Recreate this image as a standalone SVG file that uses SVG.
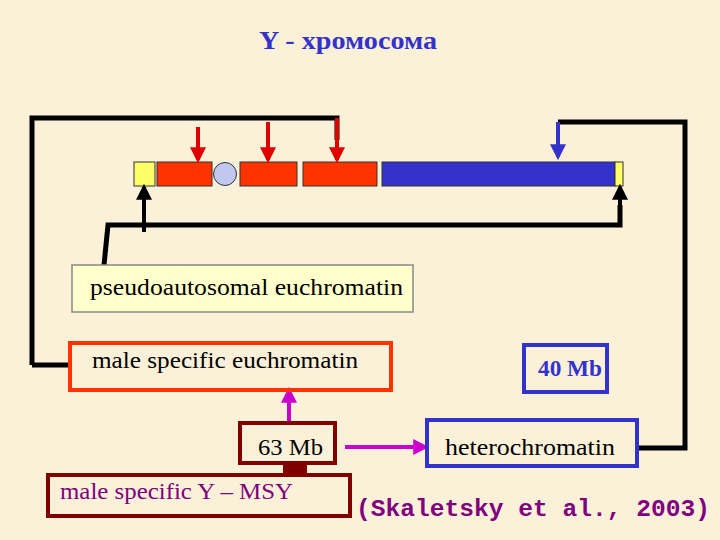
<svg xmlns="http://www.w3.org/2000/svg" width="720" height="540" viewBox="0 0 720 540">
<style>
.t{font-family:"Liberation Serif",serif;font-size:24px;fill:#000}
.ln{fill:none;stroke:#000;stroke-width:5}
.bx{stroke-width:4}
</style>
<defs>
<marker id="ab" viewBox="0 0 10 10" refX="8" refY="5" markerWidth="4" markerHeight="4" orient="auto"><path d="M0,0L10,5L0,10z" fill="#000"/></marker>
<marker id="ar" viewBox="0 0 10 10" refX="8" refY="5" markerWidth="4" markerHeight="4" orient="auto"><path d="M0,0L10,5L0,10z" fill="#E00000"/></marker>
<marker id="au" viewBox="0 0 10 10" refX="8" refY="5" markerWidth="4" markerHeight="4" orient="auto"><path d="M0,0L10,5L0,10z" fill="#3333CC"/></marker>
<marker id="ap" viewBox="0 0 10 10" refX="8" refY="5" markerWidth="4" markerHeight="4" orient="auto"><path d="M0,0L10,5L0,10z" fill="#CC00CC"/></marker>
</defs>
<rect width="720" height="540" fill="#FBF1D9"/>
<text x="259" y="49" textLength="178" lengthAdjust="spacingAndGlyphs" style="font-family:'Liberation Serif',serif;font-size:25px;font-weight:bold;fill:#3333CC">Y - хромосома</text>
<g id="chromosome" stroke="#333" stroke-width="1">
<rect x="134" y="162" width="21" height="24" fill="#FFFF66"/>
<rect x="157" y="162" width="55" height="24" fill="#FF3300"/>
<circle cx="225" cy="174" r="11.5" fill="#C0C8F0"/>
<rect x="240" y="162" width="57" height="24" fill="#FF3300"/>
<rect x="303" y="162" width="74" height="24" fill="#FF3300"/>
<rect x="382" y="162" width="233" height="24" fill="#3333CC"/>
<rect x="615" y="162" width="8" height="24" fill="#FFFF66"/>
</g>
<g id="connectors">
<path class="ln" d="M32,365V118H337V140"/>
<path d="M337,118V160" stroke="#E00000" stroke-width="4" marker-end="url(#ar)"/>
<path d="M198,127V160" stroke="#E00000" stroke-width="4" marker-end="url(#ar)"/>
<path d="M268,122V160" stroke="#E00000" stroke-width="4" marker-end="url(#ar)"/>
<path class="ln" d="M32,365H70"/>
<path class="ln" d="M558,122H685V448H638"/>
<path d="M558,122V157" stroke="#3333CC" stroke-width="4" marker-end="url(#au)"/>
<path d="M144,232V187" stroke="#000" stroke-width="4" marker-end="url(#ab)"/>
<path class="ln" d="M104,265L108,225H620V205"/>
<path d="M620,225V187" stroke="#000" stroke-width="4" marker-end="url(#ab)"/>
<path d="M289,423V390" stroke="#CC00CC" stroke-width="4" marker-end="url(#ap)"/>
<path d="M345,447H426" stroke="#CC00CC" stroke-width="4" marker-end="url(#ap)"/>
<rect x="283" y="463" width="24" height="12" fill="#800000"/>
</g>
<g id="pseudoautosomal"><rect x="72" y="265" width="341" height="47" fill="#FFFFCC" stroke="#888" stroke-width="1.5"/><text class="t" x="90" y="295" textLength="313" lengthAdjust="spacingAndGlyphs">pseudoautosomal euchromatin</text></g>
<g id="mse"><rect class="bx" x="70" y="343" width="321" height="47" fill="none" stroke="#FF3300"/><text class="t" x="92" y="368" textLength="266" lengthAdjust="spacingAndGlyphs">male specific euchromatin</text></g>
<g id="mb40"><rect class="bx" x="524" y="345" width="83" height="47" fill="none" stroke="#3333CC"/><text class="t" x="538" y="376" textLength="64" lengthAdjust="spacingAndGlyphs" style="font-weight:bold;fill:#3333CC">40 Mb</text></g>
<g id="hetero"><rect class="bx" x="427" y="420" width="210" height="46" fill="none" stroke="#3333CC"/><text class="t" x="445" y="455" textLength="170" lengthAdjust="spacingAndGlyphs">heterochromatin</text></g>
<g id="mb63"><rect class="bx" x="240" y="423" width="95" height="40" fill="none" stroke="#800000"/><text class="t" x="258" y="455" textLength="65" lengthAdjust="spacingAndGlyphs">63 Mb</text></g>
<g id="msy"><rect class="bx" x="48" y="475" width="302" height="41" fill="none" stroke="#800000"/><text class="t" x="60" y="499" textLength="233" lengthAdjust="spacingAndGlyphs" style="fill:#800080">male specific Y – MSY</text></g>
<text x="356" y="516" textLength="354" lengthAdjust="spacingAndGlyphs" style="font-family:'Liberation Mono',monospace;font-size:23px;font-weight:bold;fill:#800080">(Skaletsky et al.,  2003)</text>
</svg>
